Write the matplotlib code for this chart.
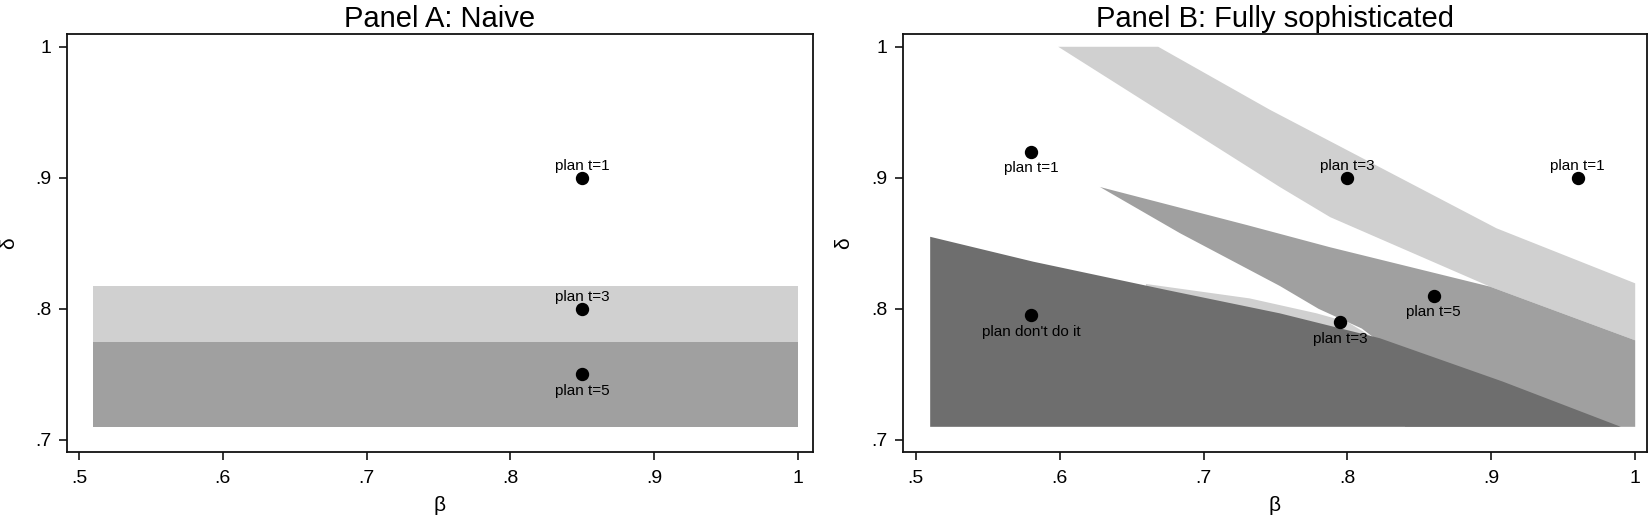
import matplotlib
matplotlib.use("Agg")
import matplotlib.pyplot as plt
from matplotlib.ticker import FixedLocator, FuncFormatter

plt.rcParams['font.family'] = ['Liberation Sans', 'DejaVu Sans']

LIGHT = '#d0d0d0'
MEDIUM = '#a0a0a0'
DARK = '#6e6e6e'

# Panel A (naive): horizontal bands
naive_beta = [0.51, 1.0]
naive_t3_band = [0.775, 0.8175]
naive_t5_band = [0.71, 0.775]
naive_pts_beta = [0.85, 0.85, 0.85]
naive_pts_delta = [0.90, 0.80, 0.75]
naive_pts_label = ['plan t=1', 'plan t=3', 'plan t=5']
naive_pts_pos = ['above', 'above', 'below']

# Panel B (sophisticated): region outlines
soph_t3_beta = [0.599, 0.6685, 0.746, 0.8087, 0.9036, 1.0,
                1.0, 0.899, 0.788, 0.753, 0.599]
soph_t3_delta = [1.0, 1.0, 0.952, 0.916, 0.8615, 0.8195,
                 0.776, 0.817, 0.870, 0.893, 1.0]

soph_sliver_beta = [0.66, 0.732, 0.7786, 0.80, 0.83, 0.83, 0.66]
soph_sliver_delta = [0.819, 0.808, 0.7966, 0.790, 0.770, 0.75, 0.75]

soph_t5_beta = [0.628, 0.730, 0.788, 0.899, 1.0, 1.0, 0.84, 0.84,
                0.81, 0.78, 0.753, 0.6837, 0.628]
soph_t5_delta = [0.893, 0.864, 0.847, 0.817, 0.776, 0.71, 0.71, 0.76,
                 0.785, 0.800, 0.8175, 0.8577, 0.893]

soph_never_beta = [0.51, 0.51, 0.5817, 0.6744, 0.753, 0.8225, 0.908, 0.99]
soph_never_delta = [0.71, 0.855, 0.836, 0.8144, 0.7966, 0.7776, 0.7445, 0.71]

soph_pts_beta = [0.58, 0.80, 0.96, 0.58, 0.795, 0.86]
soph_pts_delta = [0.92, 0.90, 0.90, 0.795, 0.79, 0.81]
soph_pts_label = ['plan t=1', 'plan t=3', 'plan t=1', "plan don't do it", 'plan t=3', 'plan t=5']
soph_pts_pos = ['below', 'above', 'above', 'below', 'below', 'below']

xticks = [0.5, 0.6, 0.7, 0.8, 0.9, 1.0]
yticks = [0.7, 0.8, 0.9, 1.0]


def strip_zero(v, pos):
    s = f"{v:g}"
    return s[1:] if s.startswith('0') else s


def style_axes(ax, title, xlim):
    ax.set_xlim(*xlim)
    ax.set_ylim(0.691, 1.0095)
    ax.xaxis.set_major_locator(FixedLocator(xticks))
    ax.yaxis.set_major_locator(FixedLocator(yticks))
    ax.xaxis.set_major_formatter(FuncFormatter(strip_zero))
    ax.yaxis.set_major_formatter(FuncFormatter(strip_zero))
    ax.tick_params(direction='out', length=6, width=1.1, labelsize=14, pad=5)
    ax.tick_params(axis='x', pad=7)
    for sp in ax.spines.values():
        sp.set_linewidth(1.3)
        sp.set_color('#111111')
    ax.set_xlabel('β', fontsize=15)
    ax.set_ylabel('δ', fontsize=15)
    ax.xaxis.set_label_coords(0.5, -0.105)
    ax.yaxis.set_label_coords(-0.066, 0.5)
    ax.set_title(title, fontsize=21, pad=5)


def label_points(ax, bs, ds, labels, positions):
    ax.plot(bs, ds, 'o', color='black', ms=8.6, zorder=5)
    for b, d, lab, p in zip(bs, ds, labels, positions):
        if p == 'above':
            ax.annotate(lab, (b, d), xytext=(0, 5.5), textcoords='offset points',
                        ha='center', va='baseline', fontsize=11, zorder=6)
        else:
            ax.annotate(lab, (b, d), xytext=(0, -7), textcoords='offset points',
                        ha='center', va='top', fontsize=11, zorder=6)


fig = plt.figure(figsize=(16.5, 5.2), dpi=100)
axA = fig.add_axes([0.0406, 0.1313, 0.4521, 0.8027])
axB = fig.add_axes([0.547, 0.1313, 0.451, 0.8027])

# Panel A
axA.fill_between(naive_beta, naive_t3_band[0], naive_t3_band[1], color=LIGHT, lw=0)
axA.fill_between(naive_beta, naive_t5_band[0], naive_t5_band[1], color=MEDIUM, lw=0)
label_points(axA, naive_pts_beta, naive_pts_delta, naive_pts_label, naive_pts_pos)
style_axes(axA, 'Panel A: Naive', (0.4917, 1.0104))

# Panel B
axB.fill(soph_t3_beta, soph_t3_delta, color=LIGHT, lw=0)
axB.fill(soph_sliver_beta, soph_sliver_delta, color=LIGHT, lw=0)
axB.fill(soph_t5_beta, soph_t5_delta, color=MEDIUM, lw=0)
axB.fill(soph_never_beta, soph_never_delta, color=DARK, lw=0)
label_points(axB, soph_pts_beta, soph_pts_delta, soph_pts_label, soph_pts_pos)
style_axes(axB, 'Panel B: Fully sophisticated', (0.4908, 1.008))

fig.savefig('out.png', dpi=100)
